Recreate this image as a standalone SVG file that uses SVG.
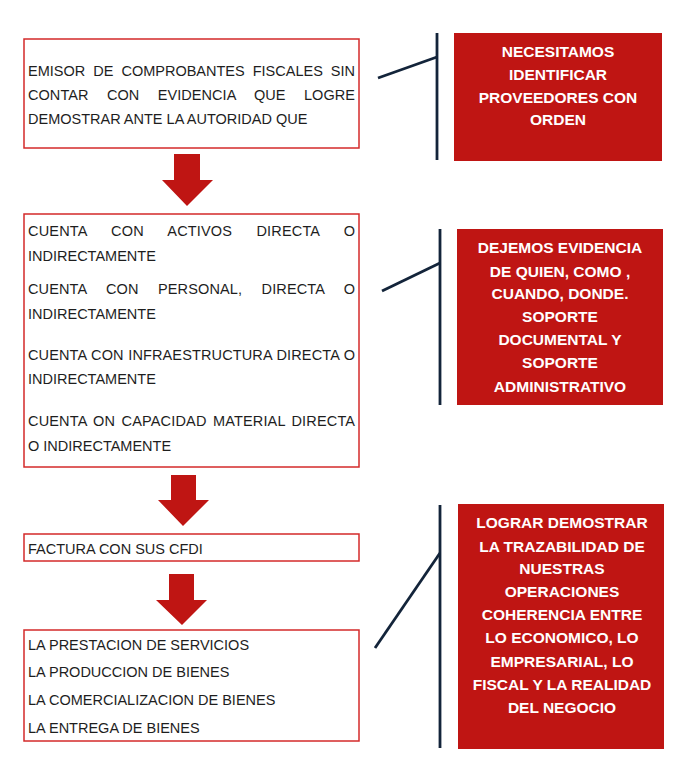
<svg xmlns="http://www.w3.org/2000/svg" width="688" height="772" viewBox="0 0 688 772">
<style>
.box{fill:#ffffff;stroke:#d42a2a;stroke-width:1.5}
.t{font-family:"Liberation Sans",Arial,sans-serif;font-size:14.5px;fill:#1e1e1e}
.note{fill:#bf1513}
.w{font-family:"Liberation Sans",Arial,sans-serif;font-size:15.5px;font-weight:bold;fill:#ffffff;text-anchor:middle}
.arrow{fill:#bf1513}
.ln{stroke:#13243a;stroke-width:2.8;fill:none}
</style>
<rect width="688" height="772" fill="#ffffff"/>

<g id="connectors">
  <path class="arrow" d="M174,154 H200 V180 H213 L187,206 L162,180 H174 Z"/>
  <path class="arrow" d="M171,475 H196 V500 H209 L183,526 L158,500 H171 Z"/>
  <path class="arrow" d="M169,574 H194 V600 H207 L182,625 L156,600 H169 Z"/>
  <line class="ln" x1="437" y1="33" x2="437" y2="160"/>
  <line class="ln" x1="378" y1="78" x2="437" y2="57"/>
  <line class="ln" x1="440" y1="229" x2="440" y2="405"/>
  <line class="ln" x1="382" y1="291" x2="440" y2="263"/>
  <line class="ln" x1="440" y1="505" x2="440" y2="748"/>
  <line class="ln" x1="375" y1="648" x2="440" y2="553"/>
</g>

<g id="box1">
  <rect class="box" x="24" y="39" width="335" height="109"/>
  <text class="t" x="28" y="76" word-spacing="4" textLength="327" lengthAdjust="spacing">EMISOR DE COMPROBANTES FISCALES SIN</text>
  <text class="t" x="28" y="100" word-spacing="14.3" textLength="327" lengthAdjust="spacing">CONTAR CON EVIDENCIA QUE LOGRE</text>
  <text class="t" x="28" y="124">DEMOSTRAR ANTE LA AUTORIDAD QUE</text>
</g>

<g id="box2">
  <rect class="box" x="24" y="214" width="335" height="253"/>
  <text class="t" x="28" y="236" word-spacing="20.1" textLength="327" lengthAdjust="spacing">CUENTA CON ACTIVOS DIRECTA O</text>
  <text class="t" x="28" y="261">INDIRECTAMENTE</text>
  <text class="t" x="28" y="294" word-spacing="15.3" textLength="327" lengthAdjust="spacing">CUENTA CON PERSONAL, DIRECTA O</text>
  <text class="t" x="28" y="319">INDIRECTAMENTE</text>
  <text class="t" x="28" y="360" word-spacing="0.4" textLength="327" lengthAdjust="spacing">CUENTA CON INFRAESTRUCTURA DIRECTA O</text>
  <text class="t" x="28" y="384">INDIRECTAMENTE</text>
  <text class="t" x="28" y="426" word-spacing="2.2" textLength="327" lengthAdjust="spacing">CUENTA ON CAPACIDAD MATERIAL DIRECTA</text>
  <text class="t" x="28" y="451">O INDIRECTAMENTE</text>
</g>

<g id="box3">
  <rect class="box" x="24" y="534" width="335" height="27"/>
  <text class="t" x="28" y="554">FACTURA CON SUS CFDI</text>
</g>

<g id="box4">
  <rect class="box" x="24" y="630" width="335" height="111"/>
  <text class="t" x="28" y="650">LA PRESTACION DE SERVICIOS</text>
  <text class="t" x="28" y="677">LA PRODUCCION DE BIENES</text>
  <text class="t" x="28" y="705">LA COMERCIALIZACION DE BIENES</text>
  <text class="t" x="28" y="733">LA ENTREGA DE BIENES</text>
</g>

<g id="note1">
  <rect class="note" x="454" y="33" width="208" height="128"/>
  <text class="w" x="558" y="57">NECESITAMOS</text>
  <text class="w" x="558" y="80">IDENTIFICAR</text>
  <text class="w" x="558" y="103">PROVEEDORES CON</text>
  <text class="w" x="558" y="125">ORDEN</text>
</g>

<g id="note2">
  <rect class="note" x="457" y="229" width="206" height="176"/>
  <text class="w" x="560" y="253">DEJEMOS EVIDENCIA</text>
  <text class="w" x="560" y="277">DE QUIEN, COMO ,</text>
  <text class="w" x="560" y="299">CUANDO, DONDE.</text>
  <text class="w" x="560" y="322">SOPORTE</text>
  <text class="w" x="560" y="345">DOCUMENTAL Y</text>
  <text class="w" x="560" y="368">SOPORTE</text>
  <text class="w" x="560" y="392">ADMINISTRATIVO</text>
</g>

<g id="note3">
  <rect class="note" x="458" y="504" width="206" height="245"/>
  <text class="w" x="562" y="528">LOGRAR DEMOSTRAR</text>
  <text class="w" x="562" y="552">LA TRAZABILIDAD DE</text>
  <text class="w" x="562" y="574">NUESTRAS</text>
  <text class="w" x="562" y="597">OPERACIONES</text>
  <text class="w" x="562" y="620">COHERENCIA ENTRE</text>
  <text class="w" x="562" y="643">LO ECONOMICO, LO</text>
  <text class="w" x="562" y="667">EMPRESARIAL, LO</text>
  <text class="w" x="562" y="690">FISCAL Y LA REALIDAD</text>
  <text class="w" x="562" y="713">DEL NEGOCIO</text>
</g>
</svg>
